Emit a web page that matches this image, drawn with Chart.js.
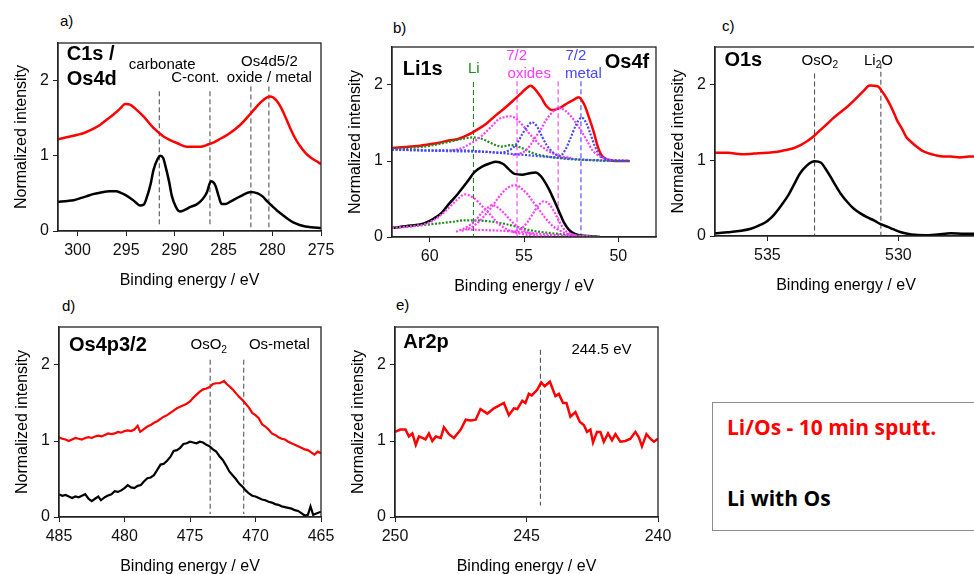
<!DOCTYPE html>
<html>
<head>
<meta charset="utf-8">
<script src="https://cdn.jsdelivr.net/npm/chart.js@4.4.1/dist/chart.umd.min.js"></script>
<style>
  body { margin: 0; width: 974px; height: 574px; overflow: hidden; background: #fff; position: relative;
         font-family: "Liberation Sans", Arial, sans-serif; }
  canvas { position: absolute; }
  .tag { position: absolute; font-size: 15px; color: #000; line-height: 18px; }
  #legend { position: absolute; left: 712px; top: 402px; width: 290px; height: 129px;
            border: 1px solid #8c8c8c; box-sizing: border-box; font-family: "Open Sans", Lato, sans-serif; font-weight: bold; }
  #legend div { position: absolute; left: 14px; font-size: 21px; line-height: 26px; }
</style>
</head>
<body>
<div class="tag" style="left:60px;top:12px">a)</div>
<div class="tag" style="left:393px;top:19px">b)</div>
<div class="tag" style="left:722px;top:17px">c)</div>
<div class="tag" style="left:62px;top:297px">d)</div>
<div class="tag" style="left:396px;top:296px">e)</div>
<div id="legend">
  <div style="top:11px;color:#ff0000">Li/Os - 10 min sputt.</div>
  <div style="top:82px;color:#000">Li with Os</div>
</div>
<script>
// ---- data (binding energy eV, normalized intensity) ----
const yTicks = [0, 1, 2];

// a) C1s / Os4d
const aTicks = [300, 295, 290, 285, 280, 275];
const aRed = [[302,1.22],[301,1.25],[300,1.28],[299.4,1.30],[298.5,1.35],[297.7,1.41],[297,1.48],[296.3,1.55],[295.6,1.63],[295.1,1.69],[294.6,1.68],[294.1,1.63],[293.2,1.52],[292.2,1.37],[291.2,1.26],[290.5,1.21],[289.8,1.17],[288.8,1.12],[287.4,1.12],[286.6,1.15],[286,1.18],[285.3,1.23],[284.6,1.28],[283.3,1.41],[282.5,1.52],[281.9,1.61],[281.2,1.71],[280.5,1.78],[280.2,1.79],[279.6,1.74],[279.1,1.64],[278.6,1.5],[278.1,1.35],[277.6,1.22],[277.1,1.12],[276.6,1.04],[276.1,0.98],[275.5,0.93],[275,0.89]];
const aBlack = [[302,0.39],[301,0.40],[300.4,0.41],[299.6,0.44],[299.1,0.46],[298.4,0.49],[297.7,0.51],[296.7,0.53],[296,0.53],[295.6,0.51],[295.1,0.48],[294.6,0.44],[294.1,0.39],[293.6,0.34],[293.2,0.35],[292.9,0.44],[292.5,0.62],[292.2,0.81],[291.8,0.95],[291.5,1.0],[291.2,0.97],[291.0,0.88],[290.6,0.66],[290.3,0.46],[289.9,0.32],[289.5,0.26],[289,0.28],[288.4,0.32],[287.8,0.35],[287.4,0.39],[287,0.45],[286.7,0.52],[286.3,0.66],[286.0,0.64],[285.8,0.59],[285.5,0.46],[285.2,0.36],[284.8,0.36],[284.3,0.39],[283.3,0.46],[282.2,0.52],[281.5,0.5],[281,0.46],[280.5,0.39],[280,0.33],[279.5,0.27],[279,0.22],[278.4,0.16],[277.8,0.11],[277.2,0.08],[276.6,0.06],[276,0.05],[275,0.04]];
const aMarks = [291.6, 286.4, 282.2, 280.35];

// b) Li1s / Os4f
const bTicks = [60, 55, 50];
const bRed = [[62,1.17],[61.5,1.18],[61,1.19],[60.5,1.2],[60,1.22],[59.5,1.24],[59,1.27],[58.5,1.29],[58,1.34],[57.5,1.41],[57,1.49],[56.5,1.6],[56,1.7],[55.6,1.79],[55.2,1.88],[54.9,1.95],[54.65,1.99],[54.4,1.94],[54.1,1.84],[53.8,1.72],[53.5,1.67],[53.1,1.7],[52.7,1.76],[52.4,1.8],[52.1,1.84],[51.8,1.74],[51.55,1.57],[51.3,1.38],[51.1,1.2],[50.9,1.08],[50.6,1.02],[50.2,1.0],[49.4,1.0]];
const bBlack = [[62,0.12],[61,0.15],[60.3,0.18],[59.8,0.24],[59.4,0.31],[59,0.43],[58.5,0.57],[58,0.73],[57.6,0.86],[57.2,0.93],[56.8,0.97],[56.5,0.99],[56.1,0.96],[55.8,0.89],[55.5,0.83],[55.1,0.82],[54.7,0.84],[54.4,0.85],[54.1,0.8],[53.7,0.64],[53.4,0.48],[53.15,0.34],[52.9,0.2],[52.6,0.09],[52.3,0.04],[52,0.02],[51.5,0.01],[51,0.0]];
const bGreenUp = [[62,1.16],[61,1.17],[60,1.2],[59,1.25],[58.3,1.29],[57.7,1.31],[57.2,1.29],[56.7,1.23],[56.2,1.19],[55.7,1.21],[55.2,1.18],[54.6,1.11],[54,1.07],[53.2,1.04],[52.3,1.02],[51.4,1.01],[50.4,1.0],[49.4,1.0]];
const bBaseUp = [[62,1.15],[60,1.14],[58.5,1.14],[57,1.12],[55.5,1.09],[54,1.06],[53,1.04],[52,1.02],[51,1.01],[49.4,1.0]];
const bMag1Up = [[58.8,1.14],[58.3,1.17],[57.9,1.22],[57.5,1.28],[57.2,1.34],[56.7,1.46],[56.35,1.55],[56,1.58],[55.8,1.59],[55.5,1.57],[55.3,1.53],[55,1.45],[54.75,1.37],[54.45,1.29],[54.2,1.22],[53.7,1.13],[53.15,1.07],[52.5,1.04]];
const bMag2Up = [[55.6,1.08],[55.2,1.1],[54.9,1.14],[54.6,1.23],[54.4,1.31],[54.1,1.42],[53.85,1.53],[53.5,1.64],[53.15,1.70],[52.8,1.66],[52.45,1.57],[52.15,1.47],[51.9,1.37],[51.6,1.24],[51.4,1.15],[51.1,1.08],[50.8,1.04],[50.3,1.01]];
const bBlueUp = [[62,1.15],[59,1.13],[57,1.12],[56.2,1.11],[55.9,1.13],[55.6,1.17],[55.3,1.26],[55.1,1.35],[54.8,1.46],[54.57,1.51],[54.3,1.45],[54.04,1.32],[53.8,1.21],[53.5,1.12],[53.1,1.07],[52.8,1.15],[52.55,1.29],[52.25,1.47],[51.95,1.57],[51.7,1.5],[51.47,1.35],[51.25,1.2],[51.05,1.1],[50.7,1.03],[50.2,1.01],[49.4,1.0]];
const bMag1Lo = [[62,0.12],[61,0.14],[60.25,0.17],[59.8,0.22],[59.36,0.3],[59,0.38],[58.6,0.48],[58.12,0.56],[57.7,0.52],[57.23,0.41],[56.8,0.3],[56.5,0.21],[56.1,0.13],[55.8,0.09],[55.3,0.05],[54.5,0.02],[53.5,0.01]];
const bMag2Lo = [[58.6,0.07],[58.12,0.12],[57.6,0.21],[57.2,0.33],[56.9,0.39],[56.7,0.42],[56.4,0.39],[56,0.3],[55.6,0.19],[55.3,0.13],[54.9,0.07],[54.4,0.03]];
const bMag3Lo = [[58.3,0.08],[57.77,0.13],[57.4,0.2],[57.06,0.29],[56.7,0.4],[56.35,0.52],[56,0.62],[55.7,0.67],[55.4,0.68],[55.1,0.63],[54.8,0.56],[54.57,0.48],[54.2,0.36],[53.87,0.25],[53.5,0.15],[53.15,0.09],[52.7,0.04],[52.2,0.02]];
const bMag4Lo = [[55.6,0.06],[55.1,0.12],[54.8,0.2],[54.57,0.29],[54.25,0.41],[53.95,0.47],[53.65,0.43],[53.33,0.3],[53.1,0.19],[52.9,0.11],[52.6,0.05],[52.2,0.02],[51.5,0.01]];
const bMagTailLo = [[58,0.1],[57,0.09],[56,0.08],[55,0.06],[54,0.04],[53,0.02],[52,0.01],[51,0.0]];
const bGreenLo = [[62,0.12],[61,0.14],[60.25,0.16],[59.5,0.18],[58.8,0.2],[58.1,0.22],[57.6,0.22],[57,0.21],[56.35,0.19],[55.8,0.16],[55.3,0.13],[54.7,0.09],[54.2,0.07],[53.15,0.04],[52.1,0.02],[51,0.01]];
const bMarks = [57.68, 55.37, 53.19, 51.98];

// c) O1s
const cTicks = [535, 530];
const cRed = [[537,1.1],[536.5,1.1],[536,1.08],[535.5,1.09],[535,1.1],[534.7,1.11],[534.4,1.13],[534,1.16],[533.75,1.2],[533.5,1.25],[533.2,1.33],[532.95,1.41],[532.7,1.49],[532.45,1.57],[532.2,1.64],[531.95,1.71],[531.7,1.79],[531.5,1.86],[531.3,1.93],[531.1,1.99],[530.8,1.98],[530.6,1.9],[530.4,1.79],[530.2,1.65],[530.05,1.53],[529.85,1.41],[529.7,1.31],[529.5,1.24],[529.3,1.18],[529.1,1.13],[528.9,1.1],[528.6,1.07],[528.3,1.05],[528,1.05],[527.65,1.04],[527.3,1.05],[527,1.05]];
const cBlack = [[537,0.035],[536.5,0.05],[536,0.07],[535.6,0.1],[535.25,0.15],[535,0.2],[534.75,0.28],[534.5,0.39],[534.2,0.54],[534,0.67],[533.75,0.83],[533.5,0.93],[533.3,0.98],[533.2,0.99],[532.95,0.97],[532.8,0.9],[532.6,0.79],[532.4,0.67],[532.2,0.56],[531.95,0.45],[531.7,0.36],[531.45,0.3],[531.2,0.25],[530.9,0.2],[530.7,0.16],[530.4,0.12],[530.2,0.09],[529.9,0.05],[529.5,0.02],[529,0.01],[528.5,0.02],[528,0.035],[527.5,0.03],[527,0.03]];
const cMarks = [533.2, 530.67];

// d) Os4p3/2
const dTicks = [485, 480, 475, 470, 465];
const dRed = [[485,1.05],[484.75,1.03],[484.5,1.02],[484.25,1.0],[484,1.02],[483.75,1.04],[483.5,1.03],[483.25,1.02],[483,1.04],[482.75,1.05],[482.5,1.04],[482.25,1.06],[482,1.07],[481.75,1.06],[481.5,1.08],[481.25,1.1],[481,1.09],[480.75,1.1],[480.5,1.12],[480.25,1.11],[480,1.13],[479.75,1.14],[479.5,1.13],[479.25,1.15],[479,1.2],[478.8,1.12],[478.5,1.16],[478.25,1.19],[478,1.21],[477.75,1.24],[477.5,1.26],[477.25,1.29],[477,1.32],[476.75,1.34],[476.5,1.37],[476.25,1.4],[476,1.43],[475.75,1.45],[475.5,1.47],[475.25,1.49],[475,1.52],[474.75,1.57],[474.5,1.61],[474.25,1.65],[474,1.68],[473.75,1.69],[473.5,1.71],[473.25,1.75],[473,1.76],[472.75,1.76],[472.5,1.78],[472.4,1.79],[472.2,1.75],[472,1.72],[471.75,1.68],[471.5,1.63],[471.25,1.58],[471,1.54],[470.75,1.49],[470.5,1.44],[470.25,1.37],[470,1.34],[469.75,1.3],[469.5,1.22],[469.25,1.19],[469,1.15],[468.75,1.1],[468.5,1.08],[468.25,1.05],[468,1.03],[467.75,1.02],[467.5,0.99],[467.25,0.97],[467,0.95],[466.75,0.93],[466.5,0.91],[466.25,0.89],[466,0.88],[465.75,0.85],[465.5,0.82],[465.25,0.86],[465,0.84]];
const dBlack = [[485,0.3],[484.75,0.28],[484.5,0.29],[484.25,0.27],[484,0.25],[483.75,0.27],[483.5,0.26],[483.25,0.28],[483,0.3],[482.75,0.24],[482.5,0.21],[482.25,0.24],[482,0.27],[481.8,0.22],[481.5,0.26],[481.3,0.28],[481,0.3],[480.75,0.34],[480.5,0.33],[480.25,0.35],[480,0.38],[479.75,0.42],[479.5,0.39],[479.25,0.38],[479,0.41],[478.75,0.42],[478.5,0.47],[478.25,0.51],[478,0.52],[477.75,0.55],[477.5,0.62],[477.25,0.69],[477,0.7],[476.75,0.74],[476.5,0.79],[476.25,0.87],[476,0.88],[475.75,0.91],[475.5,0.96],[475.25,0.97],[475,0.99],[474.75,0.98],[474.5,0.97],[474.25,0.99],[474,0.98],[473.75,0.95],[473.5,0.93],[473.25,0.89],[473,0.86],[472.75,0.8],[472.5,0.75],[472.25,0.68],[472,0.6],[471.75,0.55],[471.5,0.5],[471.25,0.44],[471,0.4],[470.75,0.35],[470.5,0.31],[470.25,0.28],[470,0.27],[469.75,0.25],[469.5,0.23],[469.25,0.22],[469,0.2],[468.75,0.19],[468.5,0.17],[468.25,0.16],[468,0.14],[467.75,0.13],[467.5,0.12],[467.25,0.11],[467,0.09],[466.75,0.08],[466.5,0.05],[466.25,0.02],[466,0.03],[465.8,0.14],[465.6,0.03],[465.3,0.05],[465,0.07]];
const dMarks = [473.46, 470.9];

// e) Ar2p
const eTicks = [250, 245, 240];
const eRed = [[250,1.12],[249.8,1.15],[249.6,1.15],[249.47,1.06],[249.34,1.1],[249.21,0.95],[249.09,1.06],[248.96,1.04],[248.84,1.02],[248.71,1.1],[248.58,1.0],[248.45,1.06],[248.26,1.04],[248.14,1.18],[247.95,1.09],[247.76,1.04],[247.5,1.15],[247.31,1.28],[247.12,1.27],[246.93,1.28],[246.75,1.42],[246.49,1.36],[246.24,1.43],[245.86,1.5],[245.67,1.34],[245.48,1.43],[245.35,1.42],[245.16,1.53],[245.04,1.5],[244.91,1.62],[244.8,1.6],[244.6,1.67],[244.44,1.77],[244.31,1.72],[244.11,1.78],[243.9,1.59],[243.77,1.62],[243.61,1.5],[243.48,1.5],[243.33,1.32],[243.14,1.38],[242.97,1.25],[242.82,1.21],[242.7,1.12],[242.57,1.15],[242.47,0.98],[242.32,1.12],[242.19,1.12],[242.06,0.99],[241.9,1.1],[241.75,1.01],[241.62,1.09],[241.43,0.99],[241.24,1.0],[241.05,1.03],[240.86,1.12],[240.73,1.05],[240.61,0.93],[240.44,1.09],[240.29,1.03],[240.16,0.99],[240,1.03]];
const eMarks = [244.47];

// ---- colours ----
const RED = '#ff0000', BLACK = '#000000', MAG = '#ff3cff', BLUE = '#4646ff', GREEN = '#1e8c1e', GREY = '#555555';
const FONT = '"Liberation Sans", Arial, sans-serif';

function line(pts, color, opts) {
  return Object.assign({
    data: pts.map(p => ({ x: p[0], y: p[1] })),
    borderColor: color, borderWidth: 2.5, pointRadius: 0,
    cubicInterpolationMode: 'monotone', fill: false
  }, opts || {});
}
function dots(pts, color) {
  return line(pts, color, { borderWidth: 2.2, borderDash: [2, 1.6] });
}

// draws text, '_x' puts x as subscript
function drawNote(ctx, s, x, y, size, color, bold, align) {
  const parts = [];
  for (let i = 0; i < s.length; i++) {
    if (s[i] === '_') { parts.push({ t: s[i + 1], sub: true }); i++; }
    else if (parts.length && !parts[parts.length - 1].sub) parts[parts.length - 1].t += s[i];
    else parts.push({ t: s[i], sub: false });
  }
  const f = sub => (bold ? 'bold ' : '') + (sub ? size * 0.68 : size) + 'px ' + FONT;
  let w = 0;
  parts.forEach(p => { ctx.font = f(p.sub); p.w = ctx.measureText(p.t).width; w += p.w; });
  let cx = align === 'left' ? x : x - w / 2;
  ctx.fillStyle = color; ctx.textBaseline = 'middle'; ctx.textAlign = 'left';
  parts.forEach(p => { ctx.font = f(p.sub); ctx.fillText(p.t, cx, p.sub ? y + size * 0.3 : y); cx += p.w; });
}

const deco = {
  id: 'deco',
  beforeDatasetsDraw(chart, args, o) {
    const ctx = chart.ctx, xs = chart.scales.x, ys = chart.scales.y;
    ctx.save();
    (o.marks || []).forEach(m => {
      ctx.strokeStyle = m.c || GREY; ctx.lineWidth = 1.1; ctx.setLineDash([5, 3]);
      const px = xs.getPixelForValue(m.x);
      ctx.beginPath(); ctx.moveTo(px, ys.getPixelForValue(m.y1)); ctx.lineTo(px, ys.getPixelForValue(m.y0)); ctx.stroke();
    });
    ctx.restore();
  },
  afterDatasetsDraw(chart, args, o) {
    const ctx = chart.ctx, a = chart.chartArea, xs = chart.scales.x, ys = chart.scales.y;
    ctx.save();
    ctx.strokeStyle = '#222'; ctx.lineWidth = 1.3; ctx.setLineDash([]);
    ctx.strokeRect(a.left, a.top, a.right - a.left, a.bottom - a.top);
    (o.notes || []).forEach(n => {
      drawNote(ctx, n.t, xs.getPixelForValue(n.x), ys.getPixelForValue(n.y), n.s || 15, n.c || '#000', n.b, n.al);
    });
    ctx.restore();
  }
};

function panel(box, xMin, xMax, xTicks, datasets, marks, notes) {
  const padR = 22;
  const c = document.createElement('canvas');
  c.width = Math.round(box.r - box.l + 58 + padR);
  c.height = Math.round(box.b - box.t + 12 + 62);
  c.style.left = (box.l - 58) + 'px';
  c.style.top = (box.t - 12) + 'px';
  document.body.appendChild(c);
  const tickFont = { family: FONT, size: 16 };
  new Chart(c, {
    type: 'line',
    data: { datasets },
    options: {
      responsive: false, animation: false,
      layout: { padding: { top: 12, right: padR, left: 0, bottom: 0 } },
      plugins: { legend: { display: false }, tooltip: { enabled: false }, deco: { marks, notes } },
      scales: {
        x: {
          type: 'linear', reverse: true, min: xMin, max: xMax,
          afterBuildTicks: s => { s.ticks = xTicks.map(v => ({ value: v })); },
          afterFit: s => { s.height = 62; s.paddingLeft = 0; s.paddingRight = 0; },
          ticks: { font: tickFont, color: '#111', padding: 5, maxRotation: 0, autoSkip: false },
          grid: { drawOnChartArea: false, drawTicks: true, tickLength: 5, color: '#222' },
          border: { color: '#222', width: 1.3 },
          title: { display: true, text: 'Binding energy / eV', font: { family: FONT, size: 16 }, color: '#000', padding: { top: 0, bottom: 3 } }
        },
        y: {
          min: 0, max: 2.5,
          afterBuildTicks: s => { s.ticks = yTicks.map(v => ({ value: v })); },
          afterFit: s => { s.width = 58; s.paddingTop = 0; s.paddingBottom = 0; },
          ticks: { font: tickFont, color: '#111', padding: 4 },
          grid: { drawOnChartArea: false, drawTicks: true, tickLength: 5, color: '#222' },
          border: { color: '#222', width: 1.3 },
          title: { display: true, text: 'Normalized intensity', font: { family: FONT, size: 16 }, color: '#000', padding: { top: 12, bottom: 0 } }
        }
      }
    },
    plugins: [deco]
  });
}

// a)
panel({ l: 58, t: 43, r: 321, b: 231 }, 275, 302, aTicks,
  [line(aRed, RED), line(aBlack, BLACK)],
  [{ x: aMarks[0], y0: 0.05, y1: 1.86 }, { x: aMarks[1], y0: 0.05, y1: 1.86 }, { x: aMarks[2], y0: 0.05, y1: 1.92 }, { x: aMarks[3], y0: 0.05, y1: 1.92 }],
  [{ t: 'C1s /', x: 301.1, y: 2.35, s: 20, b: true, al: 'left' }, { t: 'Os4d', x: 301.1, y: 2.01, s: 20, b: true, al: 'left' },
   { t: 'carbonate', x: 291.3, y: 2.21 }, { t: 'C-cont.', x: 287.9, y: 2.04 },
   { t: 'Os4d5/2', x: 280.3, y: 2.25 }, { t: 'oxide / metal', x: 280.3, y: 2.04 }]);

// b)
panel({ l: 392, t: 47, r: 656, b: 237 }, 48, 62, bTicks,
  [dots(bBaseUp, BLUE), dots(bBlueUp, BLUE), dots(bMag1Up, MAG), dots(bMag2Up, MAG), dots(bGreenUp, GREEN),
   dots(bMagTailLo, MAG), dots(bMag1Lo, MAG), dots(bMag2Lo, MAG), dots(bMag3Lo, MAG), dots(bMag4Lo, MAG), dots(bGreenLo, GREEN),
   line(bRed, RED), line(bBlack, BLACK)],
  [{ x: bMarks[0], y0: 0, y1: 2.04, c: GREEN }, { x: bMarks[1], y0: 0, y1: 2.05, c: MAG }, { x: bMarks[2], y0: 0, y1: 2.05, c: MAG }, { x: bMarks[3], y0: 0, y1: 2.05, c: BLUE }],
  [{ t: 'Li1s', x: 60.37, y: 2.21, s: 20, b: true }, { t: 'Os4f', x: 49.54, y: 2.3, s: 20, b: true },
   { t: 'Li', x: 57.66, y: 2.21, c: GREEN }, { t: '7/2', x: 55.39, y: 2.38, c: MAG }, { t: 'oxides', x: 54.72, y: 2.15, c: MAG },
   { t: '7/2', x: 52.25, y: 2.38, c: BLUE }, { t: 'metal', x: 51.85, y: 2.15, c: BLUE }]);

// c)
panel({ l: 714.5, t: 47, r: 976.9, b: 236 }, 527, 537, cTicks,
  [line(cRed, RED), line(cBlack, BLACK)],
  [{ x: cMarks[0], y0: 0, y1: 2.15 }, { x: cMarks[1], y0: 0, y1: 2.28 }],
  [{ t: 'O1s', x: 535.92, y: 2.32, s: 20, b: true }, { t: 'OsO_2', x: 533.0, y: 2.32 }, { t: 'Li_2O', x: 530.76, y: 2.32 }]);

// d)
panel({ l: 59.3, t: 327, r: 321.7, b: 516.7 }, 465, 485, dTicks,
  [line(dRed, RED, { cubicInterpolationMode: 'default', tension: 0, borderWidth: 2.2 }), line(dBlack, BLACK, { cubicInterpolationMode: 'default', tension: 0, borderWidth: 2.2 })],
  [{ x: dMarks[0], y0: 0.04, y1: 2.07 }, { x: dMarks[1], y0: 0.04, y1: 2.07 }],
  [{ t: 'Os4p3/2', x: 481.27, y: 2.26, s: 20, b: true }, { t: 'OsO_2', x: 473.57, y: 2.26 }, { t: 'Os-metal', x: 468.18, y: 2.26 }]);

// e)
panel({ l: 395, t: 327, r: 658.3, b: 516.7 }, 240, 250, eTicks,
  [line(eRed, RED, { cubicInterpolationMode: 'default', tension: 0, borderWidth: 2.5 })],
  [{ x: eMarks[0], y0: 0.15, y1: 2.2 }],
  [{ t: 'Ar2p', x: 248.82, y: 2.29, s: 20, b: true }, { t: '244.5 eV', x: 242.15, y: 2.2 }]);
</script>
</body>
</html>
